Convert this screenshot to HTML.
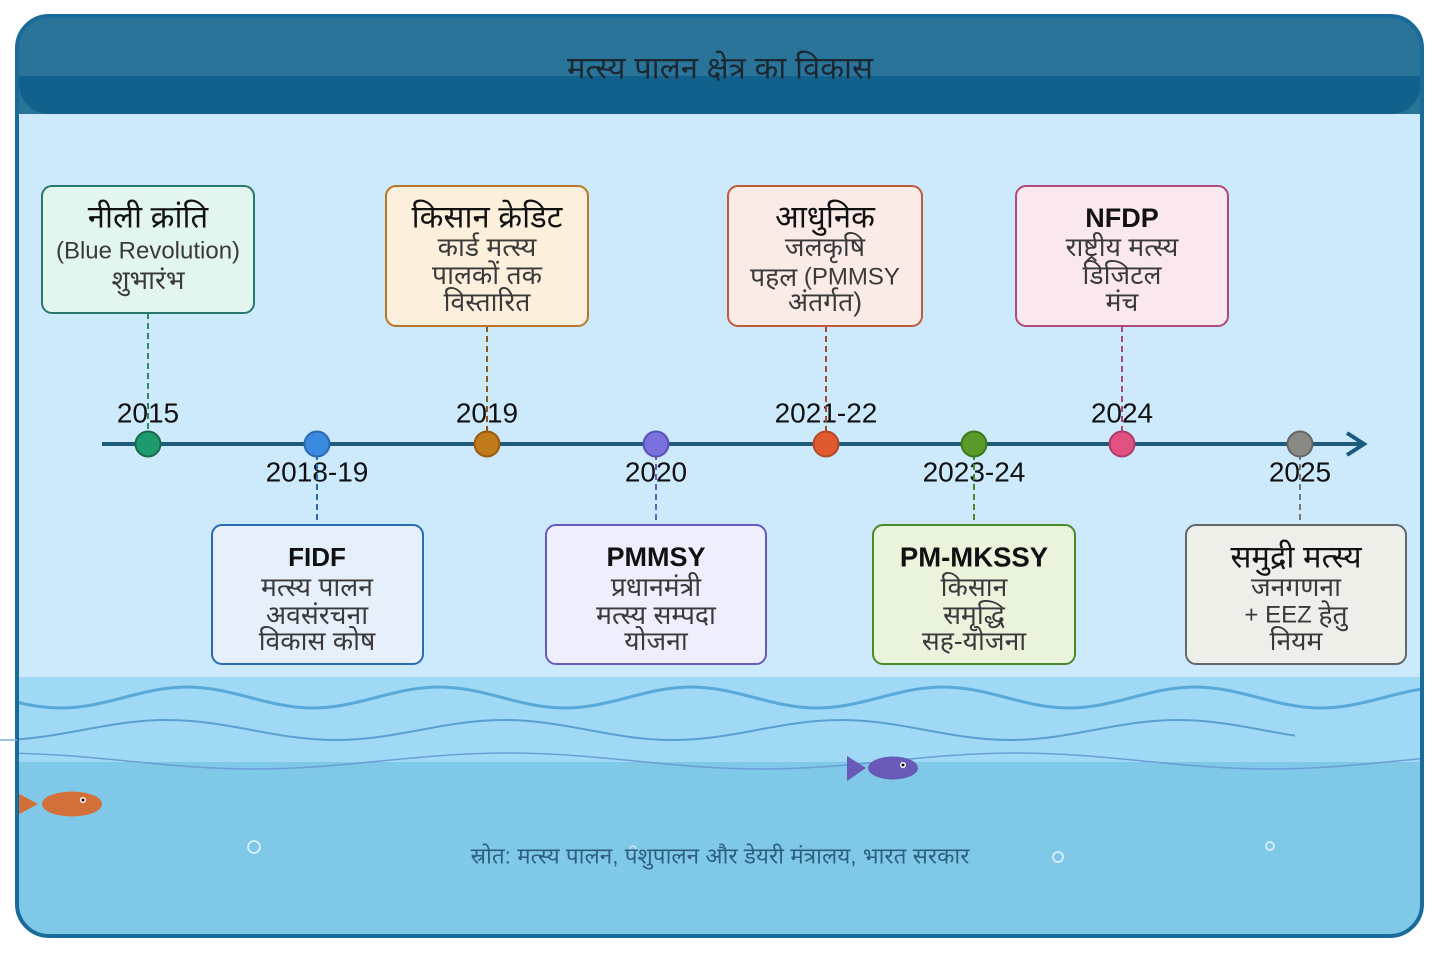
<!DOCTYPE html>
<html><head><meta charset="utf-8"><style>
html,body{margin:0;padding:0;background:#fff;}
svg{display:block;}
text{font-family:"Liberation Sans","Noto Sans Devanagari","Lohit Devanagari","Noto Sans CJK SC",sans-serif;}
</style></head><body>
<svg width="1440" height="958" viewBox="0 0 1440 958" xmlns="http://www.w3.org/2000/svg">
<defs>
<clipPath id="frame"><rect x="17" y="16" width="1405" height="920" rx="32"/></clipPath>
<clipPath id="w2"><rect x="0" y="700" width="1295" height="60"/></clipPath>
</defs>
<rect width="1440" height="958" fill="#ffffff"/>
<g clip-path="url(#frame)">
  <rect x="0" y="0" width="1440" height="958" fill="#cdeafc"/>
  <!-- header -->
  <rect x="0" y="0" width="1440" height="114" fill="#2a7499"/>
  <path d="M19,76 H1421 V84 A30,30 0 0 1 1391,114 H49 A30,30 0 0 1 19,84 Z" fill="#12608c"/>
  <text x="720" y="68" text-anchor="middle" dominant-baseline="central" font-size="31" fill="#1a2833">मत्स्य पालन क्षेत्र का विकास</text>
  <!-- water -->
  <rect x="0" y="677" width="1440" height="290" fill="#a0d9f5"/>
  <rect x="0" y="762" width="1440" height="200" fill="#80c8e8"/>
  <path d="M-65,687 C-20,687 16,708 61,708 S142,687 187,687 S268,708 313,708 S394,687 439,687 S520,708 565,708 S646,687 691,687 S772,708 817,708 S898,687 943,687 S1024,708 1069,708 S1150,687 1195,687 S1276,708 1321,708 S1402,687 1447,687" fill="none" stroke="#58a8d8" stroke-width="3"/>
  <path clip-path="url(#w2)" d="M-2,740 C59,740 106,720 167,720 S275,740 336,740 S443,720 504,720 S612,740 673,740 S780,720 841,720 S949,740 1010,740 S1117,720 1178,720 S1286,740 1347,740" fill="none" stroke="#5a9fd2" stroke-width="2"/>
  <path d="M0,753 C91,753 163,769 254,769 S417,753 508,753 S671,769 762,769 S925,753 1016,753 S1179,769 1270,769 S1433,753 1524,753" fill="none" stroke="#6a9fd6" stroke-width="1.5"/>
  <!-- fish 1 -->
  <polygon points="12,790 38,804 12,818" fill="#d2703a"/>
  <ellipse cx="72" cy="804" rx="30" ry="12.5" fill="#d2703a"/>
  <circle cx="83" cy="800" r="3" fill="#ffffff"/>
  <circle cx="83" cy="800" r="1.5" fill="#111"/>
  <!-- fish 2 -->
  <polygon points="847,756 866,768 847,781" fill="#6a5ab8"/>
  <ellipse cx="893" cy="768" rx="25" ry="11.5" fill="#6a5ab8"/>
  <circle cx="903" cy="765" r="3" fill="#ffffff"/>
  <circle cx="903" cy="765" r="1.5" fill="#111"/>
  <!-- bubbles -->
  <circle cx="254" cy="847" r="6" fill="none" stroke="#e6f5ff" stroke-width="1.5"/>
  <circle cx="1058" cy="857" r="5" fill="none" stroke="#e6f5ff" stroke-width="1.5"/>
  <circle cx="1270" cy="846" r="4" fill="none" stroke="#e6f5ff" stroke-width="1.5"/>
  <circle cx="633" cy="849" r="3" fill="none" stroke="#e6f5ff" stroke-width="1"/>
  <text x="720" y="856" text-anchor="middle" dominant-baseline="central" font-size="22.5" fill="#2d5f80">स्रोत: मत्स्य पालन, पशुपालन और डेयरी मंत्रालय, भारत सरकार</text>
</g>
<rect x="17" y="16" width="1405" height="920" rx="32" fill="none" stroke="#1a6a9a" stroke-width="4"/>
<line x1="0" y1="740" x2="17" y2="740" stroke="#7ab0d8" stroke-width="1.5"/>

<!-- timeline -->
<line x1="102" y1="444" x2="1360" y2="444" stroke="#1f5a78" stroke-width="4"/>
<polyline points="1347,433 1364,444 1347,455" fill="none" stroke="#1a5a80" stroke-width="4" stroke-linejoin="miter"/>

<!-- year labels -->
<g font-size="28" fill="#111" text-anchor="middle" dominant-baseline="central">
  <text x="148" y="413">2015</text>
  <text x="487" y="413">2019</text>
  <text x="826" y="413">2021-22</text>
  <text x="1122" y="413">2024</text>
  <text x="317" y="472">2018-19</text>
  <text x="656" y="472">2020</text>
  <text x="974" y="472">2023-24</text>
  <text x="1300" y="472">2025</text>
</g>

<!-- connectors -->
<g stroke-width="2" stroke-dasharray="6 4" fill="none">
  <line x1="148" y1="313" x2="148" y2="444" stroke="#2a8a6a"/>
  <line x1="487" y1="326" x2="487" y2="444" stroke="#8a5a1a"/>
  <line x1="826" y1="326" x2="826" y2="444" stroke="#a04a3a"/>
  <line x1="1122" y1="326" x2="1122" y2="444" stroke="#a04a7a"/>
  <line x1="317" y1="444" x2="317" y2="525" stroke="#2a6ab0"/>
  <line x1="656" y1="444" x2="656" y2="525" stroke="#6a5ac0"/>
  <line x1="974" y1="444" x2="974" y2="525" stroke="#4a8a2a"/>
  <line x1="1300" y1="444" x2="1300" y2="525" stroke="#777"/>
</g>

<!-- nodes -->
<g stroke-width="2">
  <circle cx="148" cy="444" r="12.5" fill="#1e9a6e" stroke="#1a6a4a"/>
  <circle cx="317" cy="444" r="12.5" fill="#3a8ae0" stroke="#2a6ab0"/>
  <circle cx="487" cy="444" r="12.5" fill="#c07a1a" stroke="#9a5a10"/>
  <circle cx="656" cy="444" r="12.5" fill="#7a70e0" stroke="#5a50b0"/>
  <circle cx="826" cy="444" r="12.5" fill="#e05a30" stroke="#b04a2a"/>
  <circle cx="974" cy="444" r="12.5" fill="#5a9a2a" stroke="#3a7a1a"/>
  <circle cx="1122" cy="444" r="12.5" fill="#e05080" stroke="#b03a6a"/>
  <circle cx="1300" cy="444" r="12.5" fill="#8a8a85" stroke="#666"/>
</g>

<!-- top boxes -->
<rect x="42" y="186" width="212" height="127" rx="10" fill="#e2f5ee" stroke="#2a7a6a" stroke-width="2"/>
<rect x="386" y="186" width="202" height="140" rx="10" fill="#fcefdc" stroke="#b8762a" stroke-width="2"/>
<rect x="728" y="186" width="194" height="140" rx="10" fill="#fbebe6" stroke="#c05a3a" stroke-width="2"/>
<rect x="1016" y="186" width="212" height="140" rx="10" fill="#fbe8ef" stroke="#b04a7a" stroke-width="2"/>
<!-- bottom boxes -->
<rect x="212" y="525" width="211" height="139" rx="10" fill="#e6f0fa" stroke="#2a6ab0" stroke-width="2"/>
<rect x="546" y="525" width="220" height="139" rx="10" fill="#eeeefc" stroke="#6a5ac0" stroke-width="2"/>
<rect x="873" y="525" width="202" height="139" rx="10" fill="#eaf3dc" stroke="#4a8a2a" stroke-width="2"/>
<rect x="1186" y="525" width="220" height="139" rx="10" fill="#efefe9" stroke="#666" stroke-width="2"/>

<g text-anchor="middle" dominant-baseline="central">
  <!-- box 1 -->
  <text x="148" y="217" font-size="31" fill="#111">नीली क्रांति</text>
  <text x="148" y="251" font-size="24" fill="#3a3a3a">(Blue Revolution)</text>
  <text x="148" y="280" font-size="26.5" fill="#3a3a3a">शुभारंभ</text>
  <!-- box 2 -->
  <text x="487" y="217" font-size="31" fill="#111">किसान क्रेडिट</text>
  <text x="487" y="247" font-size="26.5" fill="#3a3a3a">कार्ड मत्स्य</text>
  <text x="487" y="275" font-size="26.5" fill="#3a3a3a">पालकों तक</text>
  <text x="487" y="302" font-size="26.5" fill="#3a3a3a">विस्तारित</text>
  <!-- box 3 -->
  <text x="825" y="217" font-size="31" fill="#111">आधुनिक</text>
  <text x="825" y="247" font-size="26.5" fill="#3a3a3a">जलकृषि</text>
  <text x="825" y="277" font-size="24" fill="#3a3a3a"><tspan font-size="26.5">पहल</tspan> (PMMSY</text>
  <text x="825" y="302" font-size="26.5" fill="#3a3a3a">अंतर्गत)</text>
  <!-- box 4 -->
  <text x="1122" y="218" font-size="27" font-weight="bold" fill="#111">NFDP</text>
  <text x="1122" y="247" font-size="26.5" fill="#3a3a3a">राष्ट्रीय मत्स्य</text>
  <text x="1122" y="275" font-size="26.5" fill="#3a3a3a">डिजिटल</text>
  <text x="1122" y="302" font-size="26.5" fill="#3a3a3a">मंच</text>
  <!-- FIDF -->
  <text x="317" y="557" font-size="26" font-weight="bold" fill="#111">FIDF</text>
  <text x="317" y="587" font-size="26.5" fill="#3a3a3a">मत्स्य पालन</text>
  <text x="317" y="615" font-size="26.5" fill="#3a3a3a">अवसंरचना</text>
  <text x="317" y="641" font-size="26.5" fill="#3a3a3a">विकास कोष</text>
  <!-- PMMSY -->
  <text x="656" y="557" font-size="27" font-weight="bold" fill="#111">PMMSY</text>
  <text x="656" y="587" font-size="26.5" fill="#3a3a3a">प्रधानमंत्री</text>
  <text x="656" y="615" font-size="26.5" fill="#3a3a3a">मत्स्य सम्पदा</text>
  <text x="656" y="641" font-size="26.5" fill="#3a3a3a">योजना</text>
  <!-- PM-MKSSY -->
  <text x="974" y="557" font-size="27.5" font-weight="bold" fill="#111">PM-MKSSY</text>
  <text x="974" y="587" font-size="26.5" fill="#3a3a3a">किसान</text>
  <text x="974" y="615" font-size="26.5" fill="#3a3a3a">समृद्धि</text>
  <text x="974" y="641" font-size="26.5" fill="#3a3a3a">सह-योजना</text>
  <!-- marine -->
  <text x="1296" y="557" font-size="31" fill="#111">समुद्री मत्स्य</text>
  <text x="1296" y="587" font-size="26.5" fill="#3a3a3a">जनगणना</text>
  <text x="1296" y="615" font-size="24" fill="#3a3a3a">+ EEZ <tspan font-size="26.5">हेतु</tspan></text>
  <text x="1296" y="641" font-size="26.5" fill="#3a3a3a">नियम</text>
</g>
</svg>
</body></html>
